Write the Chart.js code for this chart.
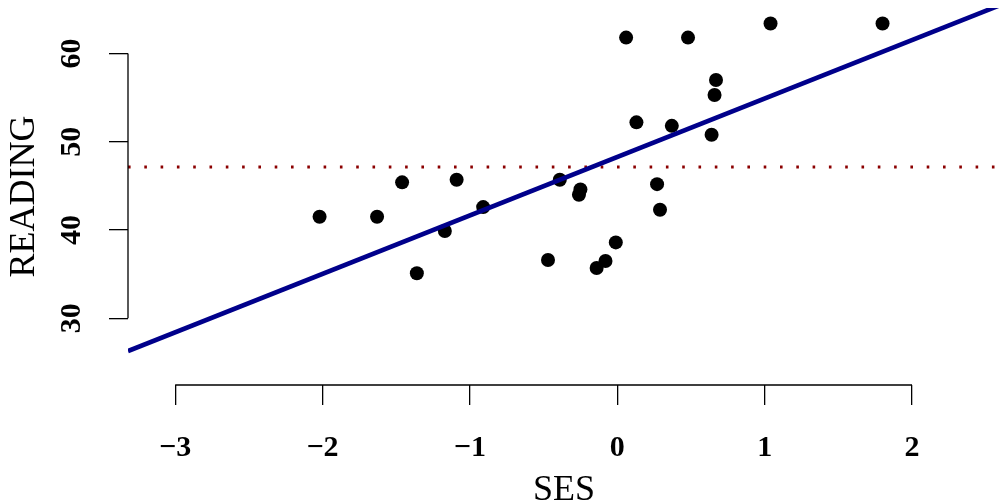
<!DOCTYPE html>
<html>
<head>
<meta charset="utf-8">
<script src="https://cdn.jsdelivr.net/npm/chart.js@4/dist/chart.umd.min.js"></script>
<style>
  html, body { margin: 0; padding: 0; background: #fff; }
  #chart { display: block; }
</style>
</head>
<body>
<canvas id="chart" width="1007" height="503"></canvas>
<script>
// SES vs READING
const sesValues = [
  -2.02, -1.63, -1.46, -1.09, -1.17, -0.91, -1.36, -0.39, -0.25, -0.26,
  0.27, 0.29, -0.01, -0.47, -0.08, -0.14, 0.06, 0.48, 0.67, 0.66,
  0.13, 0.37, 0.64, 1.04, 1.80
];
const readingValues = [
  41.5, 41.5, 45.4, 45.7, 39.9, 42.6, 35.1, 45.7, 44.6, 44.0,
  45.2, 42.3, 38.6, 36.6, 36.5, 35.7, 61.8, 61.8, 57.0, 55.3,
  52.2, 51.8, 50.8, 63.4, 63.4
];

// fitted line end points and mean of READING
const fitX = [-3.32, 2.65];
const fitY = [26.30, 65.82];
const readingMean = 47.13;

const xTicks = [-3, -2, -1, 0, 1, 2];
const yTicks = [30, 40, 50, 60];

const xRange = [-3.32, 2.597];
const yRange = [22.45, 65.15];

const serif = '"Liberation Serif", "DejaVu Serif", serif';

const points = sesValues.map((x, i) => ({ x: x, y: readingValues[i] }));
const fitLine = fitX.map((x, i) => ({ x: x, y: fitY[i] }));
const meanLine = fitX.map(x => ({ x: x, y: readingMean }));

// R style axis line: only from the first to the last tick
const axisLines = {
  id: 'axisLines',
  afterDraw(chart) {
    const ctx = chart.ctx;
    const xs = chart.scales.x;
    const ys = chart.scales.y;
    ctx.save();
    ctx.strokeStyle = '#000';
    ctx.lineWidth = 1.3;
    ctx.beginPath();
    ctx.moveTo(xs.getPixelForValue(xTicks[0]), xs.top);
    ctx.lineTo(xs.getPixelForValue(xTicks[xTicks.length - 1]), xs.top);
    ctx.moveTo(ys.right, ys.getPixelForValue(yTicks[0]));
    ctx.lineTo(ys.right, ys.getPixelForValue(yTicks[yTicks.length - 1]));
    ctx.stroke();
    ctx.restore();
  }
};

// chart.js keeps 8px free on the right, let the lines run into it
const lineClip = { left: 0, top: 0, right: 8, bottom: 0 };

new Chart(document.getElementById('chart').getContext('2d'), {
  type: 'scatter',
  data: {
    datasets: [
      {
        type: 'line',
        data: fitLine,
        borderColor: '#00008B',
        borderWidth: 4.6,
        pointRadius: 0,
        fill: false,
        clip: lineClip
      },
      {
        type: 'line',
        data: meanLine,
        borderColor: '#8B0000',
        borderWidth: 3,
        borderDash: [2.6, 13.7],
        pointRadius: 0,
        fill: false,
        clip: lineClip
      },
      {
        data: points,
        backgroundColor: '#000',
        borderWidth: 0,
        pointRadius: 7,
        clip: false
      }
    ]
  },
  options: {
    responsive: false,
    animation: false,
    devicePixelRatio: 1,
    layout: { padding: { top: 8, right: 0, bottom: 0, left: 0 } },
    plugins: { legend: { display: false }, tooltip: { enabled: false } },
    scales: {
      x: {
        type: 'linear',
        position: 'bottom',
        min: xRange[0],
        max: xRange[1],
        afterBuildTicks: s => { s.ticks = xTicks.map(v => ({ value: v })); },
        afterFit: s => { s.height = 118; s.paddingLeft = 0; s.paddingRight = 0; },
        border: { display: false },
        grid: { drawOnChartArea: false, drawTicks: true, tickLength: 20, color: '#000', lineWidth: 1.3 },
        ticks: {
          autoSkip: false,
          maxRotation: 0,
          padding: 25,
          color: '#000',
          font: { family: serif, size: 30, weight: 'bold' },
          callback: v => (v < 0 ? '\u2212' + Math.abs(v) : String(v))
        },
        title: {
          display: true,
          text: 'SES',
          color: '#000',
          font: { family: serif, size: 36, lineHeight: 0.7 },
          padding: 0
        }
      },
      y: {
        type: 'linear',
        position: 'left',
        min: yRange[0],
        max: yRange[1],
        afterBuildTicks: s => { s.ticks = yTicks.map(v => ({ value: v })); },
        afterFit: s => { s.width = 128; s.paddingTop = 0; s.paddingBottom = 0; },
        border: { display: false },
        grid: { drawOnChartArea: false, drawTicks: true, tickLength: 19, color: '#000', lineWidth: 1.3 },
        ticks: {
          autoSkip: false,
          minRotation: 90,
          maxRotation: 90,
          crossAlign: 'center',
          padding: 22,
          color: '#000',
          font: { family: serif, size: 30, weight: 'bold' }
        },
        title: {
          display: true,
          text: 'READING',
          color: '#000',
          font: { family: serif, size: 36 },
          padding: { top: 3, bottom: 0 }
        }
      }
    }
  },
  plugins: [axisLines]
});
</script>
</body>
</html>
